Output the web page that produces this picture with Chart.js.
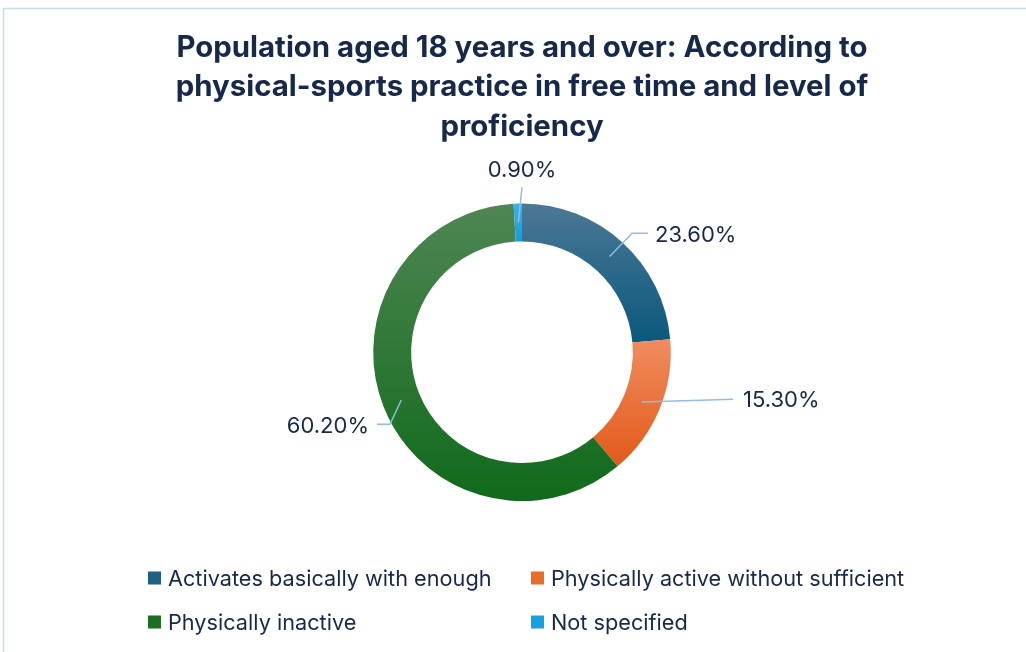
<!DOCTYPE html>
<html>
<head>
<meta charset="utf-8">
<script src="https://cdn.jsdelivr.net/npm/chart.js@4.4.1/dist/chart.umd.min.js"></script>
<style>
  html, body { margin: 0; padding: 0; background: #fff; }
  #wrap { width: 1026px; height: 652px; }
</style>
</head>
<body>
<div id="wrap"><canvas id="myChart" width="1026" height="652"></canvas></div>
<script>
const categories = [
  "Activates basically with enough",
  "Physically active without sufficient",
  "Physically inactive",
  "Not specified"
];
const shares = [23.6, 15.3, 60.2, 0.9];

const titleLines = [
  "Population aged 18 years and over: According to",
  "physical-sports practice in free time and level of",
  "proficiency"
];

// gradient stops per slice (light at the top, deep at the bottom)
const topColors = ["#4c7895", "#f08c60", "#4f8653", "#3fb1e6"];
const bottomColors = ["#0a587c", "#e15a18", "#106a1b", "#0f9cdb"];
const legendColors = ["#1f5f82", "#ea6c2c", "#1b6e22", "#18a1e0"];

const CUTOUT = 0.745;
const textColor = "#16294a";

// leader line elbows and text anchor, relative to the ring centre
const labelLayout = [
  { path: [[110, -119], [126, -119]], text: [133, -117], align: "left" },
  { path: [[211, 47]], text: [221, 48], align: "left" },
  { path: [[-132, 72], [-145, 72]], text: [-153, 74], align: "right" },
  { path: [[0, -165]], text: [0, -182], align: "center" }
];

function sliceAngles(i) {
  const total = shares.reduce((a, b) => a + b, 0);
  let before = 0;
  for (let k = 0; k < i; k++) before += shares[k];
  const a0 = -Math.PI / 2 + 2 * Math.PI * before / total;
  const a1 = a0 + 2 * Math.PI * shares[i] / total;
  return [a0, a1];
}

function ringGeometry(chart) {
  const a = chart.chartArea;
  const R = Math.min(a.right - a.left, a.bottom - a.top) / 2;
  return { cx: (a.left + a.right) / 2, cy: (a.top + a.bottom) / 2, R: R, r: R * CUTOUT };
}

function sliceFill(context) {
  const chart = context.chart;
  const i = context.dataIndex;
  if (!chart.chartArea) return bottomColors[i];
  const g = ringGeometry(chart);
  const [a0, a1] = sliceAngles(i);
  let yMin = Infinity, yMax = -Infinity;
  for (let s = 0; s <= 64; s++) {
    const t = a0 + (a1 - a0) * s / 64;
    for (const rad of [g.r, g.R]) {
      const y = g.cy + rad * Math.sin(t);
      yMin = Math.min(yMin, y);
      yMax = Math.max(yMax, y);
    }
  }
  const grad = chart.ctx.createLinearGradient(0, yMin, 0, yMax);
  grad.addColorStop(0, topColors[i]);
  grad.addColorStop(1, bottomColors[i]);
  return grad;
}

const framePlugin = {
  id: "frame",
  beforeDraw(chart) {
    const ctx = chart.ctx;
    ctx.save();
    ctx.strokeStyle = "#c6dcef";
    ctx.lineWidth = 1.5;
    ctx.strokeRect(3.5, 8.5, 1100, 700);
    ctx.restore();
  }
};

const valueLabelPlugin = {
  id: "valueLabels",
  afterDatasetsDraw(chart) {
    const ctx = chart.ctx;
    const g = ringGeometry(chart);
    const mid = (g.R + g.r) / 2;
    ctx.save();
    shares.forEach((v, i) => {
      const [a0, a1] = sliceAngles(i);
      const am = (a0 + a1) / 2;
      const lay = labelLayout[i];
      ctx.beginPath();
      ctx.moveTo(g.cx + mid * Math.cos(am), g.cy + mid * Math.sin(am));
      lay.path.forEach(p => ctx.lineTo(g.cx + p[0], g.cy + p[1]));
      ctx.strokeStyle = "#8fbde6";
      ctx.lineWidth = 1.5;
      ctx.stroke();
      ctx.fillStyle = textColor;
      ctx.font = "22px Inter, sans-serif";
      ctx.textAlign = lay.align;
      ctx.textBaseline = "middle";
      ctx.fillText(v.toFixed(2) + "%", g.cx + lay.text[0], g.cy + lay.text[1]);
    });
    ctx.restore();
  }
};

const legendPlugin = {
  id: "gridLegend",
  afterDraw(chart) {
    const ctx = chart.ctx;
    const cols = [148, 531];
    const rows = [578, 622];
    ctx.save();
    ctx.font = "21.7px Inter, sans-serif";
    ctx.textBaseline = "middle";
    ctx.textAlign = "left";
    categories.forEach((name, i) => {
      const x = cols[i % 2];
      const y = rows[Math.floor(i / 2)];
      ctx.fillStyle = legendColors[i];
      ctx.fillRect(x, y - 6.5, 13, 13);
      ctx.fillStyle = textColor;
      ctx.fillText(name, x + 20, y + 1);
    });
    ctx.restore();
  }
};

new Chart("myChart", {
  type: "doughnut",
  data: {
    labels: categories,
    datasets: [
      {
        data: shares,
        backgroundColor: sliceFill,
        borderWidth: 0
      }
    ]
  },
  options: {
    responsive: false,
    animation: false,
    cutout: (CUTOUT * 100) + "%",
    layout: { padding: { left: 18, right: 0, top: 0, bottom: 151 } },
    plugins: {
      legend: { display: false },
      tooltip: { enabled: false },
      title: {
        display: true,
        text: titleLines,
        color: textColor,
        font: { family: "Inter, sans-serif", size: 29.4, weight: "bold", lineHeight: 1.343 },
        padding: { top: 28, bottom: 57 }
      }
    }
  },
  plugins: [framePlugin, valueLabelPlugin, legendPlugin]
});
</script>
</body>
</html>
